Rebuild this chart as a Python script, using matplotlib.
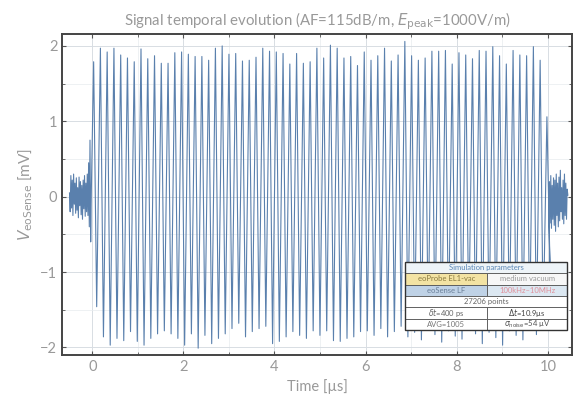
import numpy as np
import matplotlib
matplotlib.use("Agg")
import matplotlib.pyplot as plt
from matplotlib.patches import Rectangle

plt.rcParams['font.family'] = ['Lato', 'DejaVu Sans']
plt.rcParams['mathtext.fontset'] = 'dejavusans'

# upper / lower peak of each visible oscillation (mV)
peak_hi = [1.79, 1.97, 1.92, 1.97, 1.88, 1.84, 1.79, 1.96, 1.83, 1.87,
           1.77, 1.77, 1.91, 1.92, 1.89, 1.86, 1.86, 1.81, 1.97, 2.00,
           1.89, 1.90, 1.80, 1.81, 1.85, 1.97, 1.93, 1.92, 1.90, 1.76,
           1.90, 1.77, 1.79, 1.97, 1.84, 2.01, 1.97, 1.84, 1.86, 1.74,
           1.92, 1.81, 1.87, 1.97, 1.80, 1.88, 2.06, 1.87, 1.81, 1.84,
           1.93, 1.93, 1.94, 1.76, 1.91, 1.88, 1.83, 1.94, 1.93, 1.99,
           1.87, 1.76, 1.94, 1.88, 1.87, 1.99, 1.81, 1.06]
peak_lo = [-1.46, -1.86, -1.97, -1.88, -1.91, -1.79, -1.92, -1.97, -1.88, -1.82,
           -1.78, -1.82, -1.88, -1.97, -1.82, -2.01, -1.84, -1.95, -1.88, -1.82,
           -1.75, -1.68, -1.86, -1.79, -1.75, -1.72, -1.95, -1.92, -1.86, -1.79,
           -1.84, -1.88, -1.78, -1.84, -1.78, -1.91, -1.92, -1.88, -1.86, -1.79,
           -1.78, -1.84, -1.75, -1.86, -1.79, -1.72, -1.86, -1.80, -1.90, -1.76,
           -1.83, -1.93, -1.78, -1.85, -1.89, -1.74, -1.82, -1.95, -1.80, -1.87,
           -1.97, -1.78, -1.84, -1.90, -1.75, -1.83, -1.70, -0.90]
t_first, t_last = 0.03, 9.98

# noise before the burst and after it (mV)
pre_t = [-0.50, -0.485, -0.47, -0.455, -0.44, -0.425, -0.41, -0.395, -0.38, -0.365,
         -0.35, -0.335, -0.32, -0.305, -0.29, -0.275, -0.26, -0.245, -0.23, -0.215,
         -0.20, -0.185, -0.17, -0.155, -0.14, -0.125, -0.11, -0.095, -0.08, -0.065,
         -0.05, -0.035, -0.02]
pre_v = [0.05, -0.20, 0.28, -0.15, 0.22, -0.25, 0.30, -0.10, 0.18, -0.22,
         0.25, -0.18, 0.12, -0.28, 0.26, -0.12, 0.20, -0.24, 0.15, -0.30,
         0.22, -0.16, 0.28, -0.26, 0.18, -0.20, 0.30, -0.25, 0.45, -0.40,
         0.75, -0.60, 0.10]
post_t = [10.02, 10.035, 10.05, 10.065, 10.08, 10.095, 10.11, 10.125, 10.14, 10.155,
          10.17, 10.185, 10.20, 10.215, 10.23, 10.245, 10.26, 10.275, 10.29, 10.305,
          10.32, 10.335, 10.35, 10.365, 10.38, 10.395, 10.41, 10.425, 10.44]
post_v = [-0.30, 0.20, -0.35, 0.28, -0.42, 0.15, -0.30, 0.25, -0.38, 0.22,
          -0.46, 0.30, -0.25, 0.18, -0.40, 0.26, -0.32, 0.35, -0.20, 0.12,
          -0.30, 0.22, -0.36, 0.30, -0.25, 0.18, -0.30, 0.10, 0.02]

# build the trace: noise, then alternating hi / lo, then noise
n = len(peak_hi)
t_hi = np.linspace(t_first, t_last, n)
dt = (t_last - t_first) / (n - 1)
t_lo = t_hi + dt * 0.45
t_burst = np.column_stack([t_hi, t_lo]).ravel()
v_burst = np.column_stack([peak_hi, peak_lo]).ravel()
t = np.concatenate([pre_t, t_burst, post_t])
v = np.concatenate([pre_v, v_burst, post_v])

fig = plt.figure(figsize=(5.76, 4.08), dpi=100)
ax = fig.add_axes([0.108, 0.13, 0.885, 0.787])

ax.plot(t, v, color='#5a80ad', lw=0.8)

ax.set_xlim(-0.66, 10.53)
ax.set_ylim(-2.1, 2.16)
ax.set_xticks([0, 2, 4, 6, 8, 10])
ax.set_yticks([-2, -1, 0, 1, 2])
ax.set_xticks(np.arange(0, 11, 1), minor=True)
ax.set_yticks(np.arange(-2, 2.1, 0.5), minor=True)
ax.grid(True, which='major', color='#d8dde3', lw=0.7)
ax.grid(True, which='minor', color='#e8ecef', lw=0.5)
ax.set_axisbelow(True)

txt = '#999999'
ax.tick_params(which='both', direction='in', top=True, right=True,
               colors='#555555', labelcolor=txt, labelsize=10.5, length=3)
ax.tick_params(which='minor', length=2)
for s in ax.spines.values():
    s.set_color('#444444')
    s.set_linewidth(1.4)

ax.set_xlabel('Time [µs]', color=txt, fontsize=10.5)
ax.set_ylabel(r'$V_{\mathrm{eoSense}}$ [mV]', color=txt, fontsize=11)
ax.set_title(r'Signal temporal evolution (AF=115dB/m, $E_{\mathrm{peak}}$=1000V/m)',
             color=txt, fontsize=10.8, pad=6)

# parameter box (axes fraction coordinates)
x0, x1 = 0.673, 0.99
xm = 0.834
rows = 6
y_top, y_bot = 0.29, 0.078
rh = (y_top - y_bot) / rows
cells = [
    [('Simulation parameters', '#eef4f8', '#5a86b5', 2)],
    [('eoProbe EL1-vac', '#f3e3a3', '#8a7a40', 1), ('medium vacuum', '#f7f7f7', txt, 1)],
    [('eoSense LF', '#bfd2e6', '#6a7f98', 1), ('100kHz–10MHz', '#dce8f2', '#e0909a', 1)],
    [('27206 points', '#ffffff', '#666666', 2)],
    [(r'$\delta t$=400 ps', '#ffffff', '#666666', 1), (r'$\Delta t$=10.9µs', '#ffffff', '#444444', 1)],
    [('AVG=1005', '#ffffff', '#777777', 1), (r'$\sigma_{\mathrm{noise}}$=54 µV', '#ffffff', '#555555', 1)],
]
for i, row in enumerate(cells):
    yb = y_top - (i + 1) * rh
    xs = [x0, xm, x1]
    col = 0
    for label, bg, fg, span in row:
        xa, xb = xs[col], xs[col + span]
        ax.add_patch(Rectangle((xa, yb), xb - xa, rh, transform=ax.transAxes,
                               facecolor=bg, edgecolor='#555555', lw=0.6, zorder=5))
        ax.text((xa + xb) / 2, yb + rh / 2, label, transform=ax.transAxes,
                ha='center', va='center', fontsize=5.5, color=fg, zorder=6)
        col += span
ax.add_patch(Rectangle((x0, y_bot), x1 - x0, y_top - y_bot, transform=ax.transAxes,
                       facecolor='none', edgecolor='#333333', lw=1.0, zorder=7))

fig.savefig('out.png', dpi=100)
